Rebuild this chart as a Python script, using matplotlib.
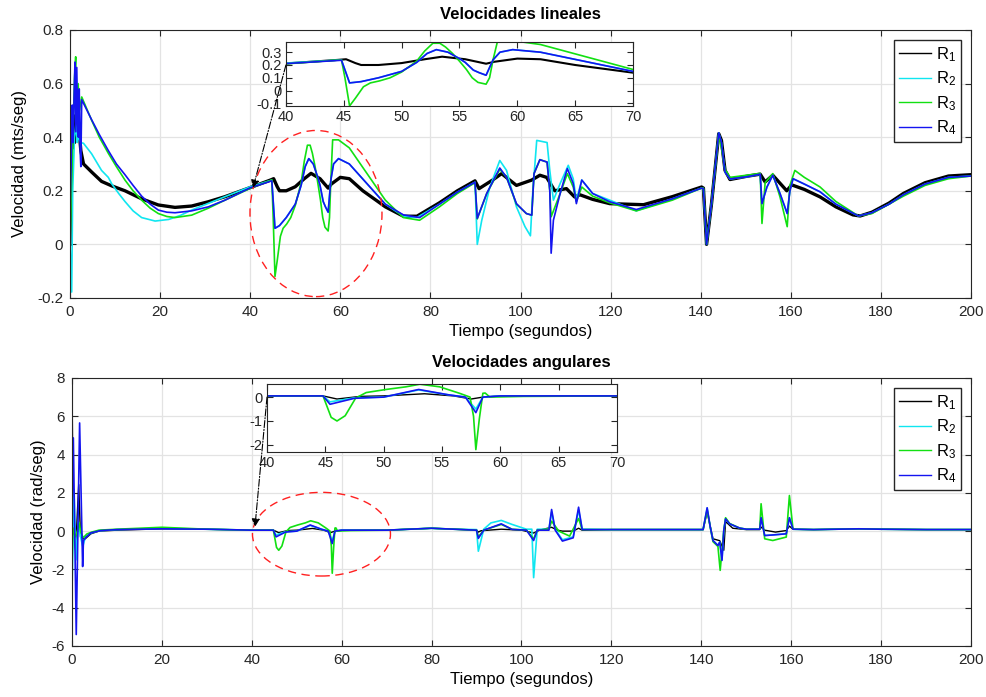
import matplotlib.pyplot as plt
from matplotlib.lines import Line2D
from matplotlib.patches import Ellipse, ConnectionPatch
from matplotlib.ticker import FuncFormatter, MultipleLocator

plt.rcParams['font.family'] = ['Liberation Sans', 'DejaVu Sans']
plt.rcParams['mathtext.fontset'] = 'custom'
plt.rcParams['mathtext.rm'] = 'Liberation Sans'
plt.rcParams['mathtext.default'] = 'regular'

labels = ['R$_1$', 'R$_2$', 'R$_3$', 'R$_4$']
colors = ['black', '#10e6f0', '#12e012', '#1414f0']

# ---- velocidades lineales (m/s) ----
lin_t1 = [0, 0.2, 0.4, 0.6, 0.8, 1.0, 1.2, 1.5, 1.8, 2.0, 2.2, 2.4, 3.0, 4.8, 7.0, 9.3,
          12.2, 15.9, 19.6, 23.3, 27.0, 30.7, 34.4, 40.0, 44.5, 45.2, 46.0, 46.5, 48.0, 50.0,
          52.0, 53.5, 55.5, 57.3, 58.0, 60.0, 62.0, 65.0, 70.0, 74.0, 77.0, 82.0, 86.0, 89.9,
          90.8, 93.8, 95.8, 99.1, 102.5, 104.3, 105.8, 107.6, 110.2, 112.0, 113.2, 116.0,
          119.8, 127.3, 133.7, 140.2, 140.6, 141.3, 142.4, 144.0, 144.6, 145.4, 146.5, 150.2,
          153.2, 154.3, 156.0, 159.1, 160.2, 163.0, 166.5, 170.0, 173.8, 175.4, 178.0, 181.8,
          185.0, 189.8, 195.0, 200.0]
lin_v1 = [0.0, 0.30, 0.42, 0.36, 0.45, 0.38, 0.48, 0.42, 0.45, 0.40, 0.39, 0.35, 0.30, 0.27,
          0.235, 0.218, 0.20, 0.17, 0.147, 0.138, 0.143, 0.159, 0.178, 0.212, 0.24, 0.245,
          0.215, 0.20, 0.20, 0.215, 0.245, 0.265, 0.245, 0.21, 0.225, 0.25, 0.245, 0.20, 0.14,
          0.105, 0.105, 0.155, 0.20, 0.237, 0.208, 0.24, 0.264, 0.22, 0.24, 0.258, 0.25, 0.20,
          0.208, 0.177, 0.185, 0.168, 0.152, 0.148, 0.178, 0.214, 0.21, 0.0, 0.152, 0.413,
          0.388, 0.276, 0.242, 0.254, 0.262, 0.233, 0.258, 0.20, 0.222, 0.205, 0.177, 0.14,
          0.11, 0.106, 0.12, 0.154, 0.19, 0.23, 0.255, 0.26]

lin_t2 = [0, 0.37, 0.6, 1.0, 1.3, 1.6, 1.85, 2.4, 3.0, 4.8, 7.0, 8.5, 9.3, 10.8, 12.2, 14.0,
          15.9, 18.9, 21.9, 24.5, 27.0, 30.7, 34.4, 40.0, 44.8, 45.5, 46.5, 48.0, 50.0, 51.3,
          52.2, 53.0, 54.0, 55.0, 55.5, 56.2, 56.7, 57.3, 57.9, 58.5, 59.6, 62.0, 70.0, 74.0,
          77.0, 82.0, 86.0, 89.9, 90.4, 91.4, 93.2, 95.4, 96.9, 99.1, 101.0, 102.2, 102.7,
          103.6, 105.9, 106.5, 107.3, 108.8, 110.6, 111.7, 112.4, 113.6, 116.0, 119.8, 125.7,
          133.7, 140.2, 140.6, 141.3, 142.4, 144.0, 144.6, 145.4, 146.5, 150.2, 153.2, 153.6,
          154.7, 156.0, 157.6, 159.2, 159.8, 160.5, 163.0, 166.5, 170.0, 175.0, 178.0, 181.8,
          185.0, 189.8, 195.0, 200.0]
lin_v2 = [0.0, -0.178, 0.20, 0.40, 0.45, 0.38, 0.40, 0.38, 0.377, 0.338, 0.276, 0.25, 0.225,
          0.19, 0.16, 0.125, 0.10, 0.087, 0.093, 0.108, 0.128, 0.153, 0.178, 0.215, 0.24,
          0.06, 0.07, 0.10, 0.15, 0.22, 0.29, 0.32, 0.30, 0.25, 0.22, 0.16, 0.14, 0.12, 0.24,
          0.30, 0.32, 0.30, 0.15, 0.105, 0.10, 0.15, 0.195, 0.232, 0.0, 0.09, 0.214, 0.313,
          0.276, 0.14, 0.066, 0.032, 0.19, 0.388, 0.38, 0.276, 0.165, 0.227, 0.295, 0.245,
          0.165, 0.24, 0.19, 0.165, 0.125, 0.17, 0.21, 0.208, 0.0, 0.152, 0.416, 0.38, 0.27,
          0.244, 0.252, 0.262, 0.152, 0.214, 0.258, 0.19, 0.115, 0.20, 0.245, 0.225, 0.196,
          0.15, 0.106, 0.118, 0.15, 0.185, 0.225, 0.25, 0.255]

lin_t3 = [0, 0.3, 0.8, 1.0, 1.26, 1.5, 1.8, 2.1, 2.6, 4.8, 6.5, 8.5, 10.3, 12.2, 14.0, 15.9,
          17.8, 19.6, 21.5, 23.3, 27.0, 30.7, 34.4, 40.0, 44.8, 45.1, 45.5, 46.0, 46.7, 47.3,
          48.1, 49.0, 50.0, 51.3, 52.0, 52.7, 53.3, 53.8, 54.4, 55.0, 55.6, 56.1, 56.6, 57.3,
          57.6, 57.9, 58.3, 59.6, 62.0, 70.0, 74.0, 77.6, 82.0, 86.0, 89.9, 90.4, 92.5, 95.4,
          96.9, 99.1, 101.3, 102.5, 103.0, 104.3, 105.9, 106.5, 106.8, 108.8, 110.4, 111.7,
          112.4, 113.6, 116.0, 119.8, 125.7, 133.7, 140.2, 140.6, 141.3, 142.4, 144.0, 144.6,
          145.4, 146.5, 150.2, 153.2, 153.6, 154.3, 156.0, 157.6, 159.2, 159.8, 160.9, 163.0,
          166.5, 170.0, 175.0, 178.0, 181.8, 185.0, 189.8, 195.0, 200.0]
lin_v3 = [0.0, 0.20, 0.50, 0.62, 0.70, 0.45, 0.60, 0.50, 0.55, 0.463, 0.40, 0.34, 0.29, 0.24,
          0.20, 0.165, 0.135, 0.115, 0.104, 0.10, 0.109, 0.135, 0.165, 0.209, 0.24, 0.10,
          -0.12, -0.06, 0.03, 0.06, 0.076, 0.10, 0.145, 0.23, 0.31, 0.37, 0.37, 0.34, 0.29,
          0.23, 0.165, 0.10, 0.064, 0.05, 0.10, 0.24, 0.39, 0.39, 0.36, 0.165, 0.10, 0.09,
          0.14, 0.19, 0.23, 0.095, 0.19, 0.28, 0.25, 0.15, 0.115, 0.109, 0.264, 0.316, 0.307,
          0.20, 0.103, 0.19, 0.264, 0.214, 0.16, 0.214, 0.18, 0.155, 0.125, 0.165, 0.21,
          0.21, 0.0, 0.152, 0.41, 0.36, 0.28, 0.25, 0.258, 0.265, 0.078, 0.23, 0.264, 0.177,
          0.066, 0.22, 0.276, 0.25, 0.214, 0.16, 0.106, 0.115, 0.15, 0.18, 0.22, 0.245, 0.255]

lin_t4 = [0, 0.3, 0.5, 0.7, 0.9, 1.1, 1.3, 1.5, 1.7, 1.85, 2.05, 2.25, 2.4, 2.6, 4.8, 6.5,
          8.5, 10.3, 12.2, 14.0, 15.9, 17.8, 19.6, 21.5, 23.3, 27.0, 30.7, 34.4, 40.0, 44.8,
          45.5, 46.5, 48.0, 50.0, 51.3, 52.2, 53.0, 54.0, 55.0, 55.5, 56.2, 56.7, 57.3, 57.9,
          58.5, 59.6, 62.0, 70.0, 74.0, 77.6, 82.0, 86.0, 89.9, 90.4, 92.5, 95.4, 96.9, 99.1,
          101.3, 102.5, 103.0, 104.3, 105.9, 106.5, 106.8, 107.3, 108.8, 110.4, 111.7, 112.4,
          113.6, 116.0, 119.8, 125.7, 133.7, 140.2, 140.6, 141.3, 142.4, 144.0, 144.6, 145.4,
          146.5, 150.2, 153.2, 153.6, 154.7, 156.0, 157.6, 159.2, 159.8, 160.5, 163.0, 166.5,
          170.0, 175.0, 178.0, 181.8, 185.0, 189.8, 195.0, 200.0]
lin_v4 = [0.10, 0.35, 0.52, 0.38, 0.55, 0.68, 0.42, 0.66, 0.45, 0.40, 0.58, 0.35, 0.29,
          0.54, 0.465, 0.41, 0.35, 0.30, 0.26, 0.22, 0.18, 0.15, 0.128, 0.12, 0.118, 0.125,
          0.14, 0.165, 0.211, 0.237, 0.06, 0.07, 0.10, 0.15, 0.22, 0.29, 0.32, 0.30, 0.25,
          0.22, 0.16, 0.14, 0.12, 0.24, 0.30, 0.32, 0.30, 0.15, 0.11, 0.10, 0.15, 0.195,
          0.232, 0.097, 0.19, 0.285, 0.25, 0.152, 0.115, 0.109, 0.264, 0.316, 0.307, 0.20,
          -0.033, 0.09, 0.19, 0.283, 0.227, 0.152, 0.24, 0.19, 0.159, 0.13, 0.17, 0.21, 0.208,
          0.0, 0.152, 0.416, 0.38, 0.27, 0.244, 0.252, 0.262, 0.152, 0.214, 0.258, 0.19,
          0.115, 0.20, 0.245, 0.225, 0.196, 0.15, 0.106, 0.118, 0.15, 0.185, 0.225, 0.25, 0.255]

# ---- velocidades angulares (rad/s) ----
ang_t1 = [0, 0.07, 0.3, 0.8, 1.5, 1.9, 2.8, 4.2, 6.0, 10, 20, 30, 40, 44.8, 46.0, 48, 50,
          53.5, 56, 57.5, 58.5, 60, 70, 80, 85, 90, 90.4, 91, 95.5, 100, 102.7, 104, 106.7,
          108, 109.1, 111.5, 112.7, 113.5, 120, 140.4, 141.3, 142.6, 144.1, 145.0, 145.4,
          147, 150, 153.0, 153.3, 154.1, 156.5, 158.9, 159.6, 160.4, 165, 175, 180, 190, 200]
ang_v1 = [0.0, 6.0, 0.0, -1.0, 2.43, -0.3, -0.43, -0.14, 0.0, 0.05, 0.12, 0.1, 0.05, 0.05,
          -0.08, 0.03, 0.05, 0.14, 0.05, -0.08, 0.0, 0.05, 0.05, 0.15, 0.1, 0.05, -0.05,
          0.02, 0.1, 0.05, -0.1, 0.05, 0.2, 0.05, 0.0, 0.0, 0.15, 0.05, 0.08, 0.08, 1.0,
          -0.4, -0.5, -1.0, 0.5, 0.15, 0.08, 0.08, 0.21, 0.05, -0.05, 0.03, 0.26, 0.1, 0.08,
          0.12, 0.1, 0.08, 0.08]

ang_t2 = [0, 0.05, 0.45, 0.9, 1.4, 1.9, 2.4, 3.0, 4.2, 6.0, 10, 20, 30, 40, 44.8, 45.4,
          47.5, 50, 53, 55.5, 57, 57.9, 58.5, 60, 70, 80, 85, 90, 90.4, 91.6, 93.2, 95.5,
          97.9, 101.1, 102.3, 102.7, 103.5, 106.1, 106.7, 107.5, 109.1, 111.5, 112.7, 113.5,
          120, 140.4, 141.3, 142.0, 142.6, 143.7, 144.1, 144.6, 145.0, 145.4, 146.3, 148.5,
          150, 153.0, 153.3, 154.1, 155.9, 158.9, 159.6, 160.4, 165, 175, 180, 190, 200]
ang_v2 = [-2.6, -2.6, 2.17, -1.5, 0.5, -0.3, -0.8, -0.3, -0.1, 0.02, 0.08, 0.15, 0.1, 0.05,
          0.05, -0.2, -0.03, 0.0, 0.3, 0.1, 0.0, -0.5, 0.0, 0.05, 0.05, 0.15, 0.1, 0.08,
          -1.05, 0.1, 0.43, 0.56, 0.35, 0.1, 0.1, -2.43, 0.1, 0.1, 1.0, 0.1, -0.45, -0.3,
          1.1, 0.1, 0.08, 0.08, 1.2, 0.2, -0.49, -0.75, -0.57, -1.5, 0.03, 0.64, 0.38, 0.16,
          0.1, 0.1, 0.7, -0.23, -0.2, -0.14, 0.7, 0.1, 0.08, 0.12, 0.1, 0.08, 0.08]

ang_t3 = [0, 0.2, 0.7, 1.2, 1.6, 1.9, 2.5, 3.3, 4.4, 6, 10, 15, 20, 25, 30, 40, 44.8, 45.5,
          46.0, 46.7, 47.6, 48.5, 50.2, 51.9, 53.1, 54.8, 56.5, 57.4, 57.7, 57.9, 58.2, 58.5,
          58.7, 59.1, 62, 70, 80, 85, 90, 90.4, 91.6, 95.5, 97.9, 101.1, 102.7, 103.5, 106.1,
          106.7, 108.3, 110.7, 112.7, 113.5, 120, 140.4, 141.3, 142.0, 142.6, 143.7, 144.2,
          145.0, 145.4, 146.3, 148.5, 150, 153.0, 153.3, 154.1, 155.9, 158.9, 159.6, 160.4,
          165, 175, 180, 190, 200]
ang_v3 = [-1.9, 0.17, -0.3, 0.0, 0.43, 0.0, -0.35, -0.15, -0.05, 0.05, 0.1, 0.15, 0.2, 0.15,
          0.1, 0.05, 0.05, -0.85, -1.0, -0.78, -0.04, 0.19, 0.32, 0.43, 0.54, 0.43, 0.16,
          0.0, -0.8, -2.2, -0.9, 0.16, 0.17, 0.0, 0.03, 0.05, 0.15, 0.1, 0.05, -0.3, 0.05,
          0.35, 0.1, 0.05, -0.4, 0.05, 0.1, 0.52, 0.0, -0.26, 0.66, 0.08, 0.08, 0.08, 1.1,
          0.2, -0.55, -0.8, -2.05, 0.0, 0.7, 0.4, 0.16, 0.1, 0.1, 1.43, -0.4, -0.49, -0.31,
          1.86, 0.1, 0.08, 0.12, 0.1, 0.08, 0.08]

ang_t4 = [0, 0.3, 0.95, 1.7, 2.37, 2.55, 3.0, 4.2, 6.4, 10, 20, 30, 40, 44.8, 45.4, 47.5,
          50, 53, 55.5, 57, 57.9, 58.5, 60, 70, 80, 85, 90, 90.4, 91.6, 95.5, 97.9, 101.1,
          102.7, 103.5, 106.1, 106.7, 107.5, 109.1, 111.5, 112.7, 113.5, 120, 140.4, 141.3,
          142.0, 142.6, 143.7, 144.1, 144.6, 145.0, 145.4, 146.3, 148.5, 150, 153.0, 153.3,
          154.1, 155.9, 158.9, 159.6, 160.4, 165, 175, 180, 190, 200]
ang_v4 = [1.0, 4.87, -5.4, 5.65, -1.85, -0.5, -0.35, -0.09, 0.03, 0.08, 0.12, 0.1, 0.05,
          0.05, -0.3, -0.05, 0.0, 0.32, 0.1, 0.0, -0.65, 0.0, 0.05, 0.05, 0.15, 0.1, 0.05,
          -0.38, 0.05, 0.38, 0.09, 0.05, -0.49, 0.05, 0.05, 1.13, 0.05, -0.52, -0.35, 1.25,
          0.08, 0.08, 0.08, 1.22, 0.2, -0.49, -0.75, -0.57, -1.53, 0.03, 0.64, 0.38, 0.16,
          0.1, 0.1, 0.7, -0.23, -0.2, -0.14, 0.7, 0.1, 0.08, 0.12, 0.1, 0.08, 0.08]

lin = [(lin_t1, lin_v1), (lin_t2, lin_v2), (lin_t3, lin_v3), (lin_t4, lin_v4)]
ang = [(ang_t1, ang_v1), (ang_t2, ang_v2), (ang_t3, ang_v3), (ang_t4, ang_v4)]

fmt = FuncFormatter(lambda v, p: '%g' % round(v, 6))
grid_col = '#e3e3e3'
edge_col = '#262626'


def style(ax, size=11):
    ax.tick_params(direction='in', length=4, labelsize=size, colors=edge_col,
                   top=True, right=True, pad=5)
    for s in ax.spines.values():
        s.set_color(edge_col)
        s.set_linewidth(0.8)
    ax.grid(True, color=grid_col, lw=0.9)
    ax.set_axisbelow(True)
    ax.yaxis.set_major_formatter(fmt)


def draw(ax, data, black_lw):
    for i, (t, v) in enumerate(data):
        ax.plot(t, v, color=colors[i], lw=black_lw if i == 0 else 1.2)


def add_legend(ax):
    handles = [Line2D([], [], color=c, lw=1.0) for c in colors]
    ax.legend(handles, labels, loc='upper right', fontsize=12, frameon=True,
              fancybox=False, edgecolor=edge_col, framealpha=1, handlelength=1.9,
              labelspacing=0.35, borderpad=0.3, handletextpad=0.3, borderaxespad=0.6)


fig = plt.figure(figsize=(9.86, 6.97), dpi=100)

# linear velocity panel
ax1 = fig.add_axes([0.071, 0.5725, 0.9138, 0.3845])
draw(ax1, lin, 2.4)
ax1.set_xlim(0, 200)
ax1.set_ylim(-0.2, 0.8)
ax1.yaxis.set_major_locator(MultipleLocator(0.2))
ax1.xaxis.set_major_locator(MultipleLocator(20))
style(ax1)
ax1.set_title('Velocidades lineales', fontsize=12, fontweight='bold', pad=8)
ax1.set_xlabel('Tiempo (segundos)', fontsize=12, labelpad=4)
ax1.set_ylabel('Velocidad (mts/seg)', fontsize=12, labelpad=7)
add_legend(ax1)
ax1.add_patch(Ellipse((54.6, 0.115), 29.3, 0.62, fill=False, ec='#ff2020', ls=(0, (6, 4)),
                      lw=1, zorder=5))

ins1 = fig.add_axes([0.290, 0.848, 0.352, 0.0918])
draw(ins1, lin, 1.5)
ins1.set_xlim(40, 70)
ins1.set_ylim(-0.12, 0.38)
ins1.set_yticks([-0.1, 0, 0.1, 0.2, 0.3])
ins1.xaxis.set_major_locator(MultipleLocator(5))
style(ins1, 10.5)
ins1.tick_params(pad=3)
ins1.grid(False)

con1 = ConnectionPatch(xyA=(40, 0.2), coordsA=ins1.transData, xyB=(40.6, 0.21),
                       coordsB=ax1.transData, arrowstyle='-|>', ls='-.', lw=0.8,
                       color='black', mutation_scale=12)
fig.add_artist(con1)

# angular velocity panel
ax2 = fig.add_axes([0.073, 0.0732, 0.9118, 0.3845])
draw(ax2, ang, 1.0)
ax2.set_xlim(0, 200)
ax2.set_ylim(-6, 8)
ax2.yaxis.set_major_locator(MultipleLocator(2))
ax2.xaxis.set_major_locator(MultipleLocator(20))
style(ax2)
ax2.set_title('Velocidades angulares', fontsize=12, fontweight='bold', pad=8)
ax2.set_xlabel('Tiempo (segundos)', fontsize=12, labelpad=4)
ax2.set_ylabel('Velocidad (rad/seg)', fontsize=12, labelpad=4)
add_legend(ax2)
ax2.add_patch(Ellipse((55.5, -0.16), 30.7, 4.37, fill=False, ec='#ff2020', ls=(0, (6, 4)),
                      lw=1, zorder=5))

ins2 = fig.add_axes([0.2708, 0.3515, 0.355, 0.0976])
draw(ins2, ang, 1.0)
ins2.set_xlim(40, 70)
ins2.set_ylim(-2.3, 0.55)
ins2.set_yticks([-2, -1, 0])
ins2.xaxis.set_major_locator(MultipleLocator(5))
style(ins2, 10.5)
ins2.tick_params(pad=3)
ins2.grid(False)

con2 = ConnectionPatch(xyA=(40, 0.0), coordsA=ins2.transData, xyB=(40.7, 0.22),
                       coordsB=ax2.transData, arrowstyle='-|>', ls='-.', lw=0.8,
                       color='black', mutation_scale=12)
fig.add_artist(con2)

fig.savefig('out.png', dpi=100)
